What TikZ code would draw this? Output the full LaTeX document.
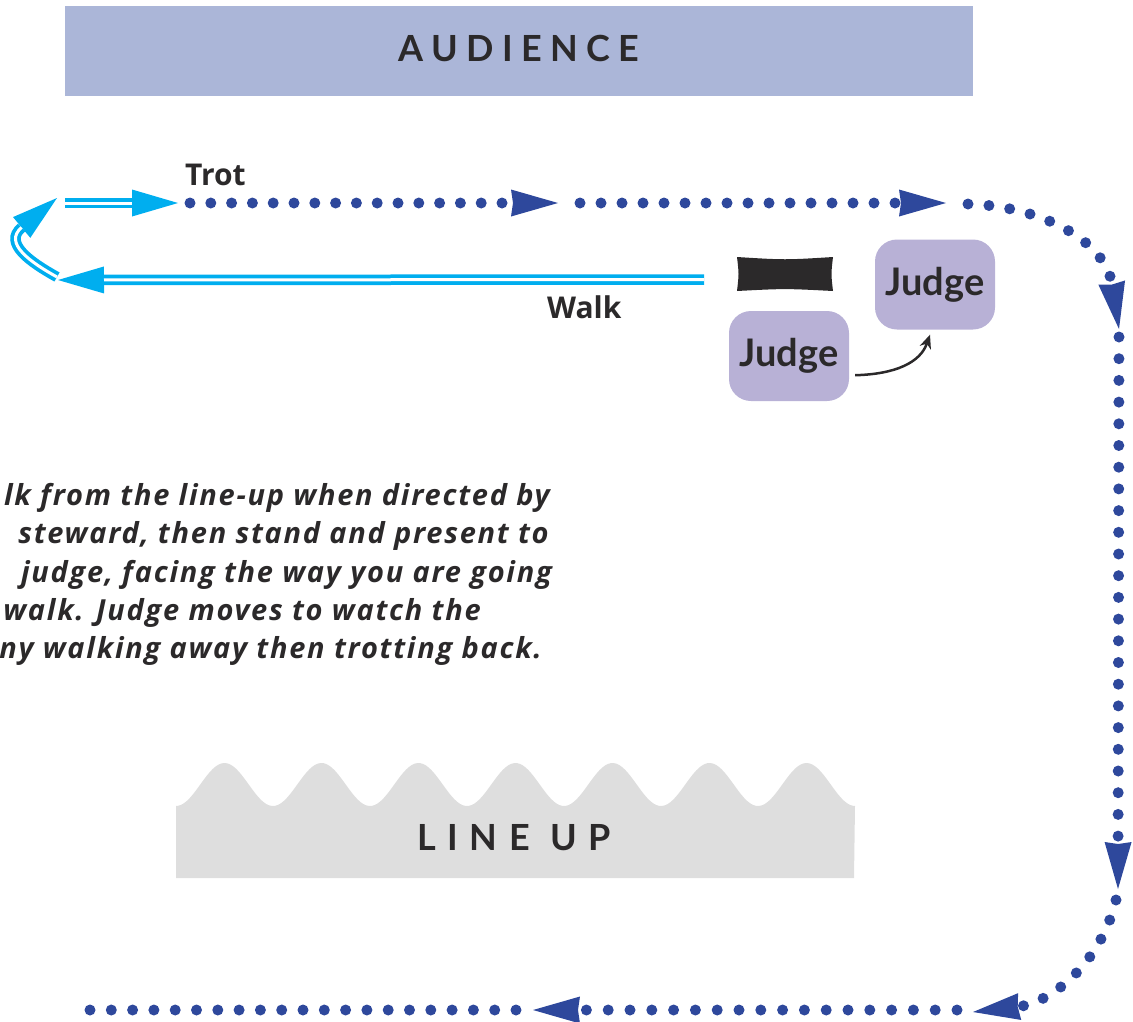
\documentclass[tikz,border=0pt]{standalone}
\usepackage{fontspec}
\setmainfont{Open Sans}
\newfontfamily\latofont{Lato}
\newfontfamily\audfont{Lato}[LetterSpace=23]
\newfontfamily\lineupfont{Lato}[LetterSpace=32]
\newfontfamily\notefont{Open Sans}[LetterSpace=6]
\usetikzlibrary{arrows.meta,calc}

\definecolor{trailblue}{RGB}{46,72,156}
\definecolor{sky}{RGB}{0,174,239}
\definecolor{audbg}{RGB}{171,182,216}
\definecolor{judgebg}{RGB}{184,177,214}
\definecolor{linebg}{RGB}{222,222,222}
\definecolor{ink}{RGB}{43,41,42}

\begin{document}
\begin{tikzpicture}[x=1pt, y=-1pt,
  % dotted trot trail
  trail/.style={draw=trailblue, line width=11pt, line cap=round, dash pattern=on 0pt off #1},
  trail/.default=21pt,
  headed/.style={-{Stealth[length=47pt, width=27pt, inset=2pt, line width=0pt]}},
  % double cyan walking line
  walkline/.style={draw=sky, line width=10.5pt,
    -{Triangle[length=46pt, width=27pt, line width=0pt]},
    postaction={draw=white, line width=3pt, -, shorten >=46pt}},
  judgebox/.style={fill=judgebg, rounded corners=22pt, minimum width=120pt,
    minimum height=90pt, inner sep=0pt, text=ink,
    font=\latofont\bfseries\fontsize{38}{38}\selectfont},
  lbl/.style={text=ink, inner sep=0pt, font=\bfseries\fontsize{30}{30}\selectfont},
  note/.style={text=ink, inner sep=0pt, anchor=base east,
    font=\notefont\bfseries\itshape\fontsize{29}{29}\selectfont}
]
\useasboundingbox (0,0) rectangle (1133,1021);

% audience band
\node[fill=audbg, minimum width=908pt, minimum height=90pt, inner sep=0pt] (band) at (519,51) {};
\node[text=ink, inner sep=0pt, font=\audfont\bfseries\fontsize{36}{36}\selectfont]
  (audience) at (519,48) {AUDIENCE};

% line-up area with wavy top edge (period 97)
\fill[linebg] (176,878) -- plot[domain=176:855, samples=240]
  (\x,{784.5+21.5*cos(3.71134*(\x-176))}) -- (854,878) -- cycle;
\node[text=ink, inner sep=0pt, font=\lineupfont\bfseries\fontsize{36}{36}\selectfont]
  (lineup) at (514,838) {LINE UP};

% walk out: double cyan lines
\coordinate (walkstart) at (704,279.5);
\coordinate (walkend) at (58,280);
\coordinate (turnstart) at (57,277);
\coordinate (turnend) at (57,198);
\coordinate (backstart) at (65,203);
\coordinate (backend) at (178,203);
\draw[walkline] (walkstart) -- (walkend);
\draw[walkline] (turnstart) .. controls (30,262) and (3,243) .. (turnend);
\draw[walkline] (backstart) -- (backend);

% trot back: dotted trail
\coordinate (t1) at (190,203);   \coordinate (t2) at (558,203);
\coordinate (t3) at (580,203);   \coordinate (t4) at (946,203);
\coordinate (t5) at (968,204);   \coordinate (t6) at (1119,329);
\coordinate (t7) at (1119,337);  \coordinate (t8) at (1118,889);
\coordinate (t9) at (1116,900);  \coordinate (t10) at (973,1012);
\coordinate (t11) at (957,1010); \coordinate (t12) at (533,1010);
\coordinate (t13) at (516,1010); \coordinate (t14) at (89,1010);
\draw[trail=20.8pt, headed] (t1) -- (t2);
\draw[trail=21pt, headed] (t3) -- (t4);
\draw[trail=21pt, headed] (t5) .. controls (1040,206) and (1105,240) .. (t6);
\draw[trail=21.7pt, headed] (t7) -- (t8);
\draw[trail=21pt, headed] (t9) .. controls (1100,965) and (1050,1003) .. (t10);
\draw[trail=21.8pt, headed] (t11) -- (t12);
\draw[trail=21.3pt] (t13) -- (t14);

\node[lbl, anchor=base west] (trot) at (185,185) {Trot};
\node[lbl, anchor=base west] (walk) at (547,318) {Walk};

% judge's table and judge positions
\fill[ink] (737,257) .. controls (785,260) .. (833,257)
  .. controls (831,274) .. (833,291) .. controls (785,288.5) .. (737,291)
  .. controls (739,274) .. (737,257) -- cycle;
\node[judgebox] (judgeA) at (789,356) {Judge};
\node[judgebox] (judgeB) at (935,284.5) {Judge};
\draw[ink, line width=2.5pt, -{Stealth[length=14pt, width=12pt, line width=0pt]}]
  ($(judgeA.south east)+(6,-26)$) .. controls +(40,-1) and +(-10,28) .. ($(judgeB.south)+(-5,5)$);

% instructions
\node[note] (note1) at (550,505) {lk from the line-up when directed by};
\node[note] (note2) at (549,543) {steward, then stand and present to};
\node[note] (note3) at (552,582) {judge, facing the way you are going};
\node[note] (note4) at (481,620) {walk. Judge moves to watch the};
\node[note] (note5) at (542,658) {ny walking away then trotting back.};
\end{tikzpicture}
\end{document}
